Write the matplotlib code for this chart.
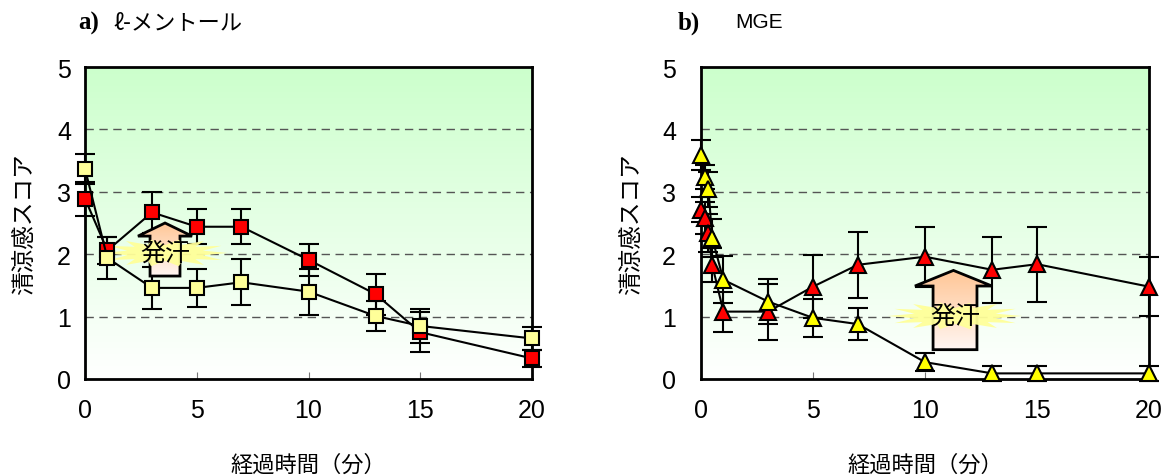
import numpy as np
import matplotlib.pyplot as plt
from matplotlib.patches import Polygon
from matplotlib.colors import LinearSegmentedColormap

plt.rcParams['font.family'] = ['Liberation Sans', 'Noto Sans CJK JP', 'DejaVu Sans']
JP = ['Noto Sans CJK JP', 'DejaVu Sans']

# a) l-menthol
t_a = [0, 1, 3, 5, 7, 10, 13, 15, 20]
red_a = [2.89, 2.06, 2.67, 2.44, 2.44, 1.91, 1.36, 0.75, 0.33]
red_a_err = [0.27, 0.22, 0.33, 0.28, 0.28, 0.26, 0.33, 0.32, 0.14]
yel_a = [3.37, 1.94, 1.46, 1.46, 1.55, 1.40, 1.01, 0.85, 0.65]
yel_a_err = [0.24, 0.33, 0.34, 0.30, 0.37, 0.37, 0.24, 0.27, 0.18]

# b) MGE
t_b = [0, 1 / 6, 1 / 3, 0.5, 1, 3, 5, 7, 10, 13, 15, 20]
red_b = [2.71, 2.58, 2.34, 1.83, 1.08, 1.08, 1.48, 1.83, 1.96, 1.75, 1.84, 1.48]
red_b_err = [0.20, 0.26, 0.30, 0.27, 0.32, 0.45, 0.50, 0.53, 0.48, 0.53, 0.60, 0.47]
yel_b = [3.59, 3.24, 3.04, 2.26, 1.59, 1.24, 0.98, 0.88, 0.27, 0.09, 0.09, 0.09]
yel_b_err = [0.24, 0.19, 0.28, 0.30, 0.38, 0.36, 0.30, 0.25, 0.14, 0.12, 0.12, 0.12]

xticks = [0, 5, 10, 15, 20]
yticks = [0, 1, 2, 3, 4, 5]

W, H = 1165, 477
fig = plt.figure(figsize=(W / 100, H / 100), dpi=100)

bg_cmap = LinearSegmentedColormap.from_list('bg', ['#ffffff', '#ccffcc'])
arrow_cmap = LinearSegmentedColormap.from_list('arr', ['#fff6f2', '#ffc696'])


def add_axes_px(x0, x1, ytop, ybot):
    return fig.add_axes([x0 / W, 1 - ybot / H, (x1 - x0) / W, (ybot - ytop) / H])


def style_axes(ax, ypad, ylab_x):
    ax.set_xlim(0, 20)
    ax.set_ylim(0, 5)
    ax.set_xticks(xticks)
    ax.set_yticks(yticks)
    grad = np.linspace(0, 1, 256).reshape(-1, 1)
    ax.imshow(grad, extent=[0, 20, 0, 5], origin='lower', cmap=bg_cmap,
              aspect='auto', zorder=0)
    for y in [1, 2, 3, 4]:
        ax.axhline(y, color='#555555', lw=1, ls=(0, (6, 4)), zorder=1)
    for s in ax.spines.values():
        s.set_linewidth(2)
    ax.tick_params(axis='x', direction='in', length=5, color='#777777',
                   labelsize=18, pad=14)
    ax.tick_params(axis='y', length=0, labelsize=18, pad=ypad)
    ax.set_xlabel('経過時間（分）', fontsize=16, family=JP)
    ax.xaxis.set_label_coords(0.5, -0.235)
    ax.set_ylabel('清涼感スコア', fontsize=17, family=JP)
    ax.yaxis.set_label_coords(ylab_x, 0.5)


def draw_series(ax, t, y, err, marker, ms, fc):
    ax.errorbar(t, y, yerr=err, fmt='none', ecolor='black', elinewidth=1.5,
                capsize=7, capthick=1.5, zorder=2, clip_on=False)
    ax.plot(t, y, color='black', lw=1.5, marker=marker, ms=ms, mfc=fc,
            mec='black', mew=1.5, zorder=3, clip_on=False)


def sweat(ax, sx0, sx1, hx0, hx1, ybot, ybase, ytop, cx, cy, rx, ry):
    ax_ = (hx0 + hx1) / 2
    verts = [(sx0, ybot), (sx1, ybot), (sx1, ybase), (hx1, ybase),
             (ax_, ytop), (hx0, ybase), (sx0, ybase)]
    patch = Polygon(verts, closed=True, facecolor='none', edgecolor='black',
                    lw=2, zorder=2.6, joinstyle='miter')
    ax.add_patch(patch)
    grad = np.linspace(0, 1, 100).reshape(-1, 1)
    im = ax.imshow(grad, extent=[hx0, hx1, ybot, ytop], origin='lower',
                   cmap=arrow_cmap, aspect='auto', zorder=2.5)
    im.set_clip_path(patch)
    n = 28
    ang = np.linspace(0, 2 * np.pi, n, endpoint=False)
    r = np.where(np.arange(n) % 2 == 0, 1.0, 0.62)
    bx = cx + rx * r * np.cos(ang)
    by = cy + ry * r * np.sin(ang) * (0.75 + 0.25 * np.abs(np.cos(ang)))
    ax.add_patch(Polygon(np.column_stack([bx, by]), closed=True,
                         facecolor='#ffff99', edgecolor='none', alpha=0.95,
                         zorder=2.7))
    ax.text(cx, cy, '発汗', ha='center', va='center', fontsize=18,
            family=JP, zorder=5)


# panel a
ax1 = add_axes_px(85, 532, 68, 380)
style_axes(ax1, 10, -0.11)
sweat(ax1, 2.91, 4.25, 2.37, 4.79, 1.65, 2.29, 2.50, 3.58, 2.02, 2.8, 0.27)
draw_series(ax1, t_a, red_a, red_a_err, 's', 10, '#ff0000')
draw_series(ax1, t_a, yel_a, yel_a_err, 's', 10, '#ffff99')
ax1.set_xlim(0, 20)
ax1.set_ylim(0, 5)

# panel b
ax2 = add_axes_px(701, 1149, 68, 380)
style_axes(ax2, 18, -0.13)
sweat(ax2, 10.36, 12.32, 9.55, 12.99, 0.47, 1.49, 1.74, 11.34, 1.01, 3.0, 0.27)
draw_series(ax2, t_b, red_b, red_b_err, '^', 11, '#ff0000')
draw_series(ax2, t_b, yel_b, yel_b_err, '^', 11, '#ffff00')
ax2.set_xlim(0, 20)
ax2.set_ylim(0, 5)

# titles
fig.text(78 / W, 1 - 23 / H, 'a)', family='Liberation Serif', weight='bold',
         fontsize=18, va='center')
fig.text(113 / W, 1 - 23 / H, 'ℓ-メントール', family=JP, fontsize=16, va='center')
fig.text(678 / W, 1 - 23 / H, 'b)', family='Liberation Serif', weight='bold',
         fontsize=18, va='center')
fig.text(735 / W, 1 - 23 / H, 'MGE', fontsize=15, va='center')

fig.savefig('out.png', dpi=100)
